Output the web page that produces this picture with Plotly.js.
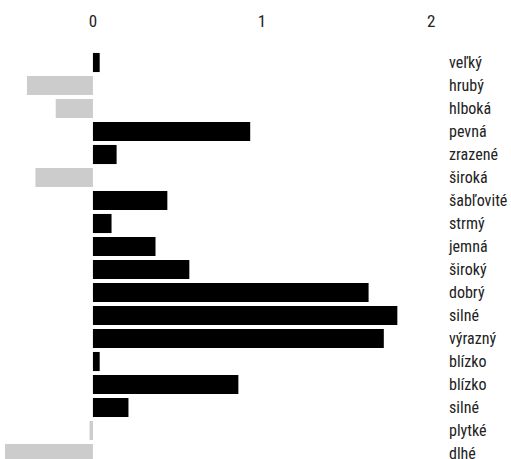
<!DOCTYPE html>
<html>
<head>
<meta charset="utf-8">
<script src="https://cdn.plot.ly/plotly-3.0.1.min.js"></script>
<style>
html,body{margin:0;padding:0;overflow:hidden;background:#fff;}
#chart svg text{font-stretch:condensed !important;}
</style>
</head>
<body>
<div id="chart"></div>
<script>
const categories = ["veľký","hrubý","hlboká","pevná","zrazené","široká","šabľovité","strmý","jemná","široký","dobrý","silné","výrazný","blízko","blízko","silné","plytké","dlhé"];
const values = [0.04,-0.39,-0.22,0.93,0.14,-0.34,0.44,0.11,0.37,0.57,1.63,1.80,1.72,0.04,0.86,0.21,-0.02,-0.52];
const xTicks = [0,1,2];

const idx = categories.map((c,i)=>i);
const colors = values.map(v => v < 0 ? "#cccccc" : "#000000");

const trace = {
  type: "bar",
  orientation: "h",
  x: values,
  y: idx,
  marker: {color: colors},
  hoverinfo: "skip"
};

const font = "Roboto, sans-serif";

const layout = {
  width: 511,
  height: 465,
  margin: {l: 5, r: 68, t: 51, b: 0},
  paper_bgcolor: "#fff",
  plot_bgcolor: "#fff",
  bargap: 0.17,
  showlegend: false,
  font: {family: font, size: 16, color: "#222"},
  xaxis: {
    side: "top",
    range: [-0.52, 2.07],
    tickvals: xTicks,
    ticktext: xTicks.map(String),
    showgrid: false,
    zeroline: false,
    showline: false,
    ticks: "",
    ticklabelstandoff: 20,
    tickfont: {family: font, size: 17, color: "#222"}
  },
  yaxis: {
    side: "right",
    range: [17.5, -0.5],
    tickvals: idx,
    ticktext: categories,
    showgrid: false,
    zeroline: false,
    showline: false,
    ticks: "",
    ticklabelstandoff: 5,
    tickfont: {family: font, size: 16, color: "#222"}
  }
};

Plotly.newPlot("chart", [trace], layout, {displayModeBar: false, staticPlot: true});
</script>
</body>
</html>
